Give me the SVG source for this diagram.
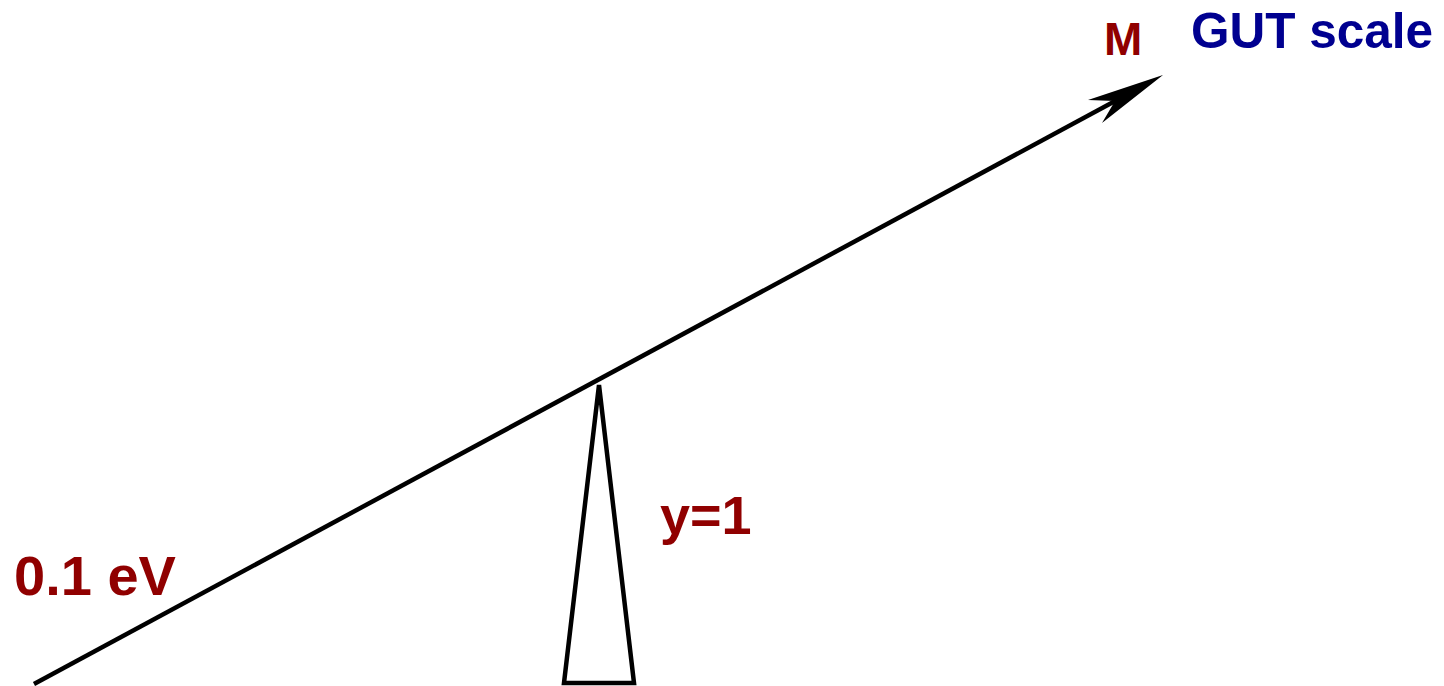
<svg xmlns="http://www.w3.org/2000/svg" width="1444" height="686" viewBox="0 0 1444 686">
<style>
.lbl{font-family:"Liberation Sans",Arial,sans-serif;font-weight:bold}
.red{fill:#900000}
.blue{fill:#000090}
</style>
<rect width="1444" height="686" fill="#fff"/>
<g id="connectors">
<line x1="34" y1="684" x2="1130" y2="93" stroke="#000" stroke-width="4.5"/>
<path d="M1163,75 L1102,123 L1115,101 L1088,100 Z" fill="#000"/>
</g>
<g id="fulcrum">
<polygon points="599,385 564,683 634,683" fill="#fff" stroke="#000" stroke-width="4.5" stroke-linejoin="miter"/>
</g>
<g id="label-M"><text class="lbl red" x="1104" y="55" font-size="46">M</text></g>
<g id="label-GUT"><text class="lbl blue" x="1191" y="48" font-size="49.5">GUT scale</text></g>
<g id="label-y"><text class="lbl red" x="660" y="534" font-size="54">y=1</text></g>
<g id="label-eV"><text class="lbl red" x="14" y="595" font-size="56">0.1 eV</text></g>
</svg>
